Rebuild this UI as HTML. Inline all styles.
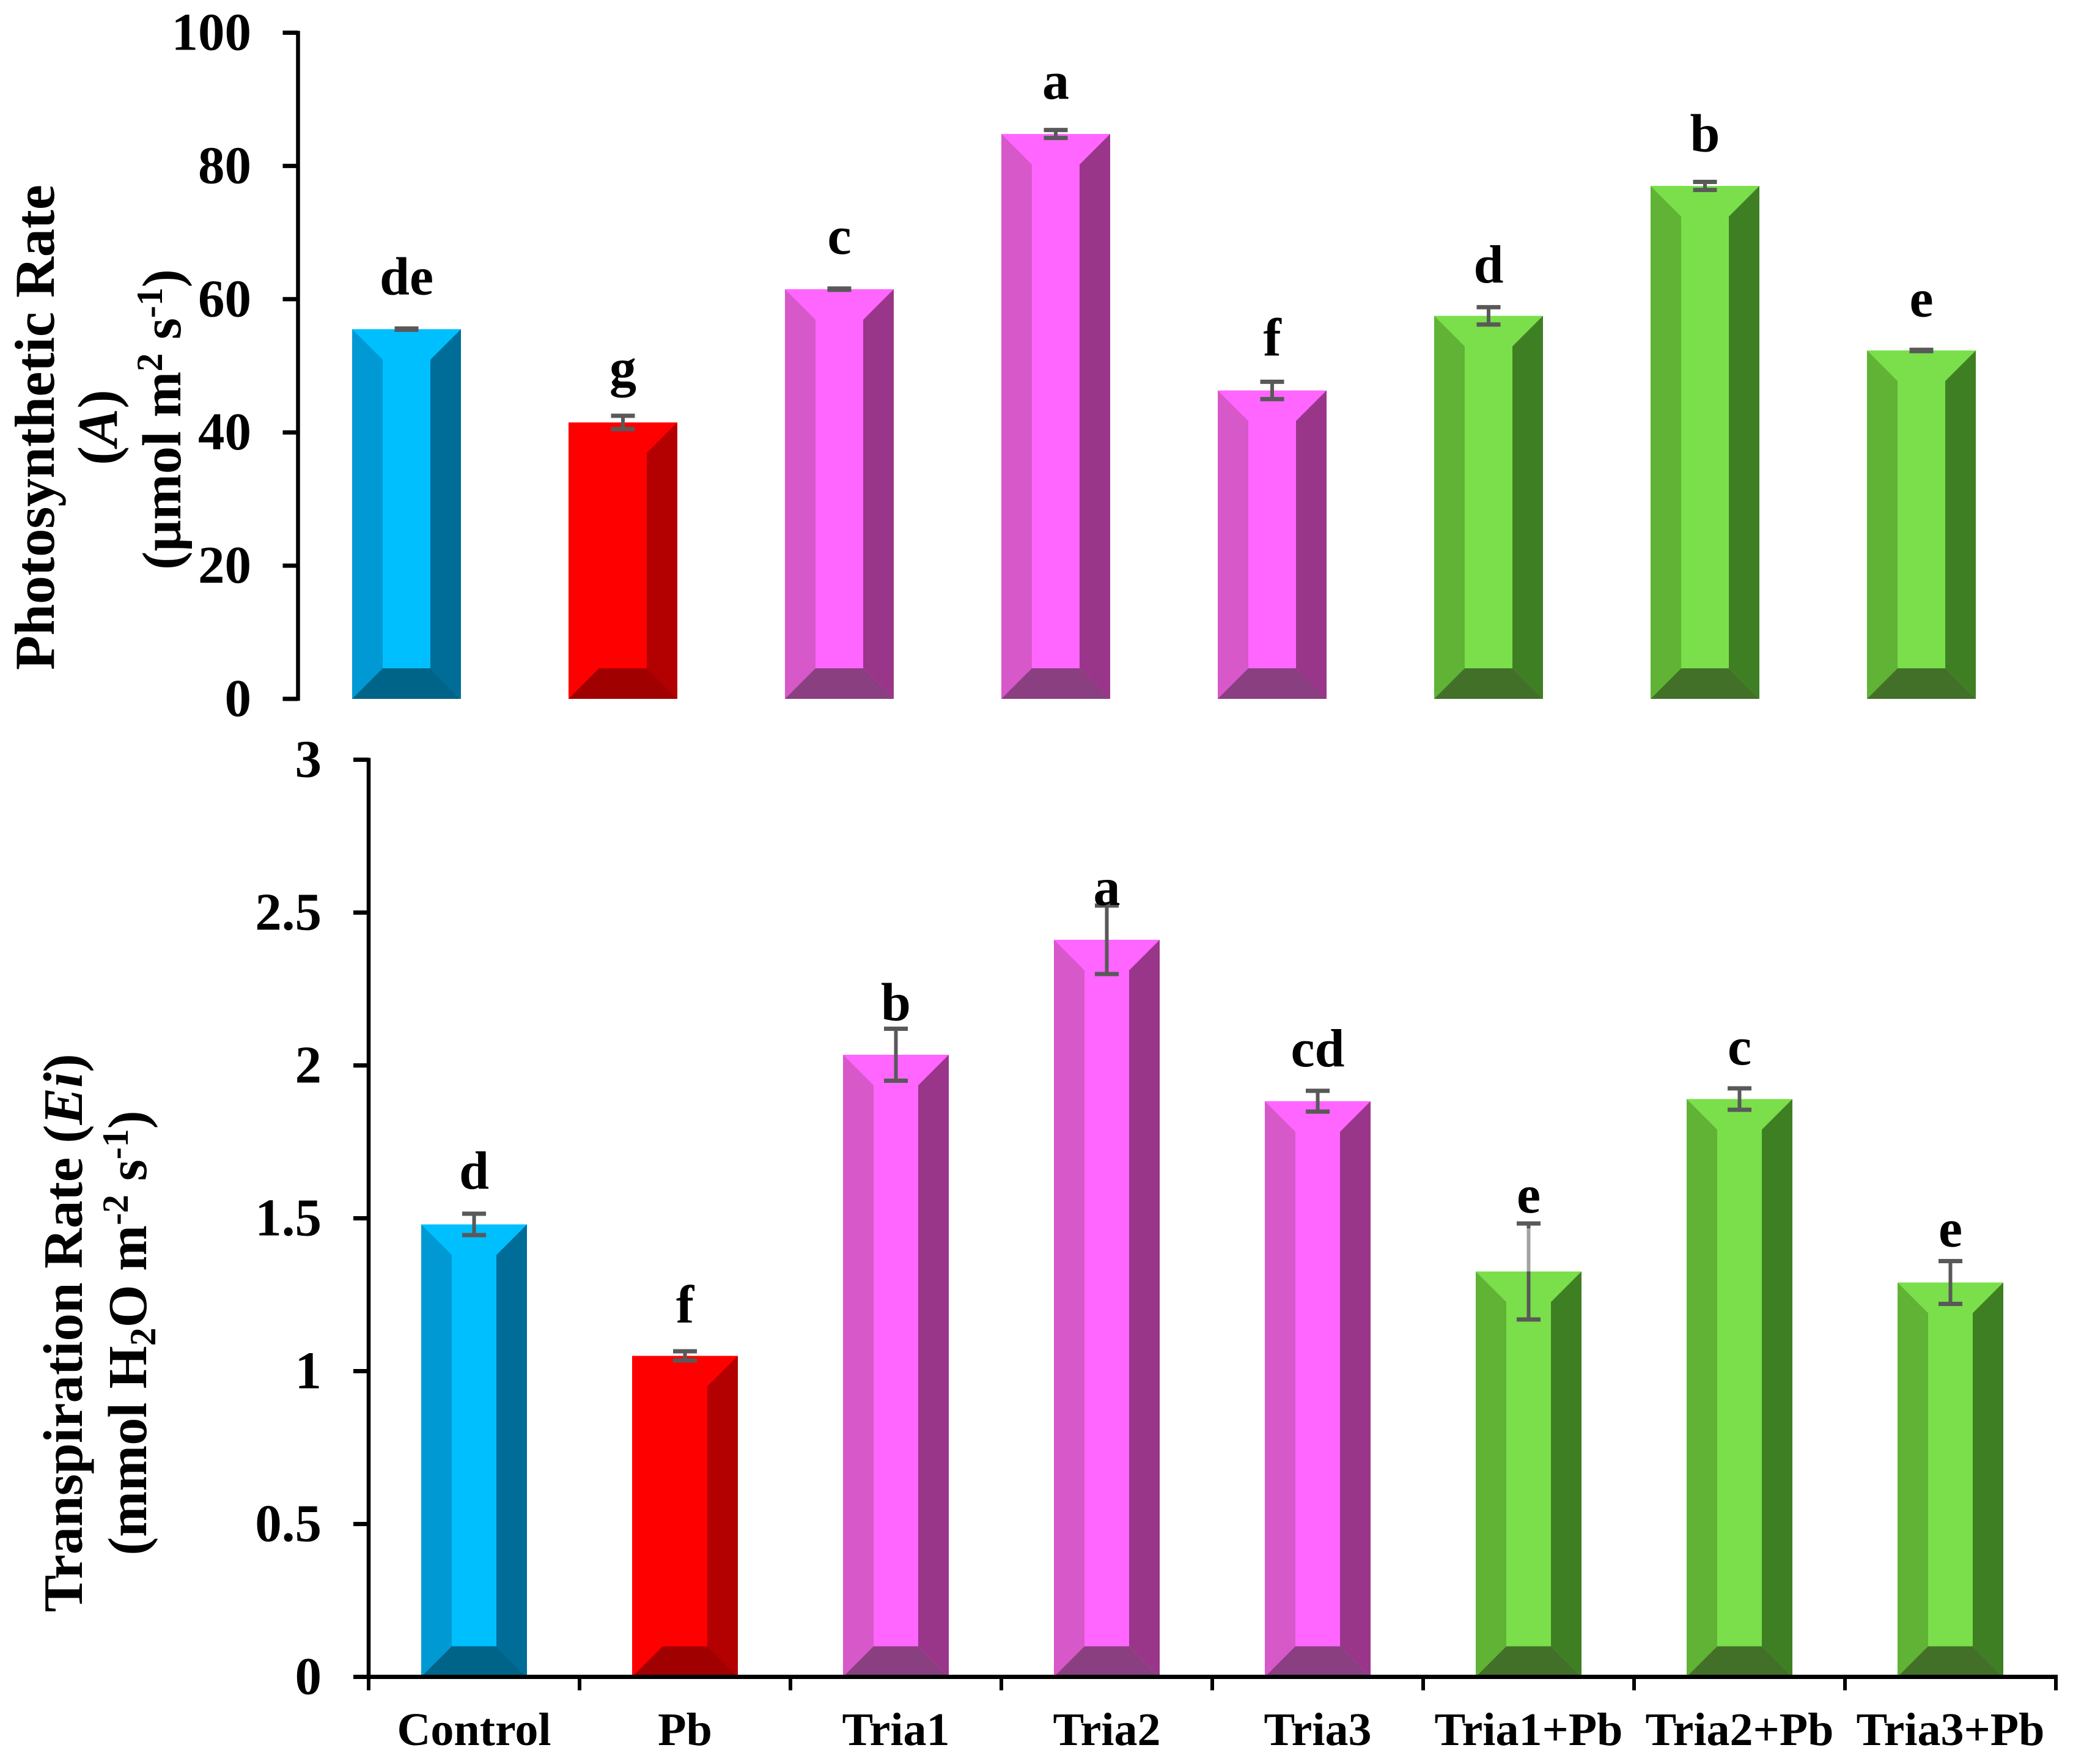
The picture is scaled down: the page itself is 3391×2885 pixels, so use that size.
<!DOCTYPE html>
<html lang="en">
<head>
<meta charset="utf-8">
<title>Photosynthetic and transpiration rate charts</title>
<style>
html,body{margin:0;padding:0;background:#fff;}
svg{display:block;}
text{font-family:"Liberation Serif",serif;font-weight:bold;fill:#000;}
</style>
</head>
<body>
<svg id="chart" xmlns="http://www.w3.org/2000/svg" width="3391" height="2885" viewBox="0 0 3391 2885">
  <rect x="0" y="0" width="3391" height="2885" fill="#fff"/>
  <g font-size="92.5">
    <text transform="translate(88,699) rotate(-90)" text-anchor="middle">Photosynthetic Rate</text>
    <text transform="translate(191,699) rotate(-90)" text-anchor="middle">(<tspan font-style="italic">A</tspan>)</text>
    <text transform="translate(295,686) rotate(-90)" text-anchor="middle" font-size="90">(µmol m<tspan font-size="60" dy="-30">2</tspan><tspan dy="30"> s</tspan><tspan font-size="60" dy="-30">-1</tspan><tspan dy="30">)</tspan></text>
  </g>
  <g font-size="91">
    <text transform="translate(134,2180) rotate(-90)" text-anchor="middle">Transpiration Rate (<tspan font-style="italic">Ei</tspan>)</text>
    <text transform="translate(239,2180) rotate(-90)" text-anchor="middle" font-size="90">(mmol H<tspan font-size="60" dy="15">2</tspan><tspan dy="-15">O m</tspan><tspan font-size="60" dy="-30">-2</tspan><tspan dy="30"> s</tspan><tspan font-size="60" dy="-30">-1</tspan><tspan dy="30">)</tspan></text>
  </g>
</svg>
<script>
var categories = ['Control', 'Pb', 'Tria1', 'Tria2', 'Tria3', 'Tria1+Pb', 'Tria2+Pb', 'Tria3+Pb'];
var groupPalette = ['cyan', 'red', 'magenta', 'magenta', 'magenta', 'green', 'green', 'green'];

var photosynthesisValues = [55.5, 41.5, 61.5, 84.8, 46.3, 57.5, 77, 52.3];
var photosynthesisErrors = [0.1, 1, 0.1, 0.6, 1.3, 1.3, 0.6, 0.1];
var photosynthesisLetters = ['de', 'g', 'c', 'a', 'f', 'd', 'b', 'e'];
var photosynthesisLetterClearance = [5.1, 4.5, 5.2, 4.7, 3.95, 3.7, 4.6, 5.0];
var photosynthesisTicks = [0, 20, 40, 60, 80, 100];

var transpirationValues = [1.48, 1.05, 2.035, 2.411, 1.883, 1.326, 1.89, 1.29];
var transpirationErrors = [0.035, 0.015, 0.085, 0.112, 0.034, 0.157, 0.035, 0.07];
var transpirationLetters = ['d', 'f', 'b', 'a', 'cd', 'e', 'c', 'e'];
var transpirationLetterClearance = [0.082, 0.094, 0.028, 0.002, 0.08, 0.036, 0.078, 0.048];
var transpirationTicks = [0, 0.5, 1, 1.5, 2, 2.5, 3];
var fadedUpperWhiskers = ['Tria1+Pb'];

var colors = {
  cyan:    {face: '#00BFFF', left: '#0099D3', right: '#006D99', bottom: '#006488'},
  red:     {face: '#FF0000', left: '#FF0000', right: '#B30000', bottom: '#A00000'},
  magenta: {face: '#FF66FF', left: '#D758C9', right: '#99368A', bottom: '#8A3F80'},
  green:   {face: '#7ADF4A', left: '#60B335', right: '#3F7F24', bottom: '#437028'}
};

var NS = 'http://www.w3.org/2000/svg';
var root = document.getElementById('chart');

function make(tag, parent, attrs) {
  var el = document.createElementNS(NS, tag);
  for (var k in attrs) { el.setAttribute(k, attrs[k]); }
  parent.appendChild(el);
  return el;
}

function drawBar(parent, key, cx, halfWidth, yTop, yBase, bevel) {
  var c = colors[key];
  var l = cx - halfWidth, r = cx + halfWidth;
  var il = l + bevel, ir = r - bevel, it = yTop + bevel, ib = yBase - bevel;

  var face = make('rect', parent, {x: l, y: yTop, width: r - l, height: yBase - yTop, fill: c.face});
  
  

  var left = make('polygon', parent, {points: [l, yTop, il, it, il, ib, l, yBase].join(' '), fill: c.left});
  
  

  var right = make('polygon', parent, {points: [r, yTop, ir, it, ir, ib, r, yBase].join(' '), fill: c.right});
  
  

  var bottom = make('polygon', parent, {points: [l, yBase, il, ib, ir, ib, r, yBase].join(' '), fill: c.bottom});
  
  
}

function drawError(parent, cx, yHigh, yLow, yBar, faded) {
  var ink = '#595959';
  var stem = make('line', parent, {x1: cx, x2: cx, y1: yHigh, y2: yLow, stroke: ink, 'stroke-width': 6});
  
  
  if (faded) {
    var pale = make('line', parent, {x1: cx, x2: cx, y1: yHigh + 8, y2: yBar, stroke: '#A3A3A3', 'stroke-width': 6});
    
    
  }
  var capTop = make('line', parent, {x1: cx - 19.5, x2: cx + 19.5, y1: yHigh, y2: yHigh, stroke: ink, 'stroke-width': 7});
  
  
  var capLow = make('line', parent, {x1: cx - 19.5, x2: cx + 19.5, y1: yLow, y2: yLow, stroke: ink, 'stroke-width': 7});
  
  
}

function drawChart(o) {
  var g = make('g', root, {});
  
  

  var yMax = o.ticks[o.ticks.length - 1];
  function yScale(v) { return o.yBase - (v / yMax) * (o.yBase - o.yTop); }
  function xScale(i) { return o.x0 + o.step * i; }

  o.values.forEach(function (v, i) {
    var bar = make('g', g, {});
    
    
    var cx = xScale(i);
    drawBar(bar, groupPalette[i], cx, o.halfWidth, yScale(v), o.yBase, 50);
    var err = o.errors[i];
    var faded = (o.faded || []).indexOf(categories[i]) >= 0;
    drawError(bar, cx, yScale(v + err), yScale(v - err), yScale(v), faded);
    var letter = make('text', g, {x: cx, y: yScale(v + err + o.clearance[i]), 'text-anchor': 'middle', 'font-size': 88});
    letter.textContent = o.letters[i];
    
    
  });

  var axis = make('line', g, {x1: o.axisX, x2: o.axisX, y1: o.yTop - 3, y2: o.yBase + 3, stroke: '#000', 'stroke-width': 6.5});
  
  

  o.ticks.forEach(function (t) {
    var y = yScale(t);
    var tick = make('line', g, {x1: o.axisX - 25, x2: o.axisX, y1: y, y2: y, stroke: '#000', 'stroke-width': 7});
    
    
    var label = make('text', g, {x: o.labelRight, y: y + 28, 'text-anchor': 'end', 'font-size': 87});
    label.textContent = String(t);
    
    
  });

  if (o.showXAxis) {
    var xAxis = make('line', g, {x1: o.axisX - 25, x2: o.axisX + o.step * categories.length + 3, y1: o.yBase, y2: o.yBase, stroke: '#000', 'stroke-width': 7});
    
    
    for (var i = 0; i <= categories.length; i++) {
      var tx = o.axisX + o.step * i;
      var xTick = make('line', g, {x1: tx, x2: tx, y1: o.yBase, y2: o.yBase + 22, stroke: '#000', 'stroke-width': 6});
      
      
    }
    categories.forEach(function (name, j) {
      var cat = make('text', g, {x: xScale(j), y: 2854, 'text-anchor': 'middle', 'font-size': 76});
      cat.textContent = name;
      
      
    });
  }
}

drawChart({
  name: 'photosynthesis', values: photosynthesisValues, errors: photosynthesisErrors,
  letters: photosynthesisLetters, clearance: photosynthesisLetterClearance, ticks: photosynthesisTicks,
  yTop: 53.5, yBase: 1143, x0: 665, step: 354, halfWidth: 89, axisX: 487.5, labelRight: 411, showXAxis: false
});

drawChart({
  name: 'transpiration', values: transpirationValues, errors: transpirationErrors,
  letters: transpirationLetters, clearance: transpirationLetterClearance, ticks: transpirationTicks,
  faded: fadedUpperWhiskers,
  yTop: 1242.5, yBase: 2742.5, x0: 775.5, step: 345, halfWidth: 86.5, axisX: 603, labelRight: 526, showXAxis: true
});
</script>
</body>
</html>
